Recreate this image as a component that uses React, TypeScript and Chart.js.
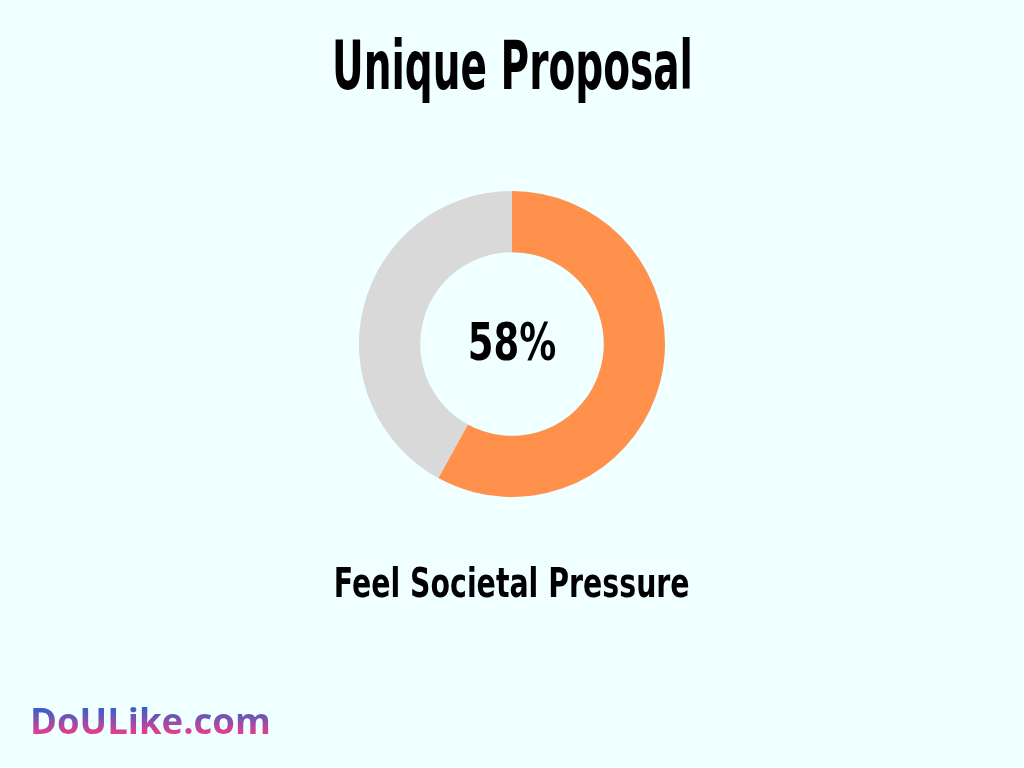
import React, { useEffect, useRef } from "react";
import { Chart, registerables } from "chart.js";

Chart.register(...registerables);

const categories = ["Feel Societal Pressure", "Other"];
const values = [58, 42];
const colors = ["#FF914D", "#D9D9D9"];
const titleText = "Unique Proposal";
const centerLabel = "58%";
const captionText = "Feel Societal Pressure";

const heavy = "'DejaVu Sans', sans-serif";

export default function App() {
  const ref = useRef<HTMLCanvasElement | null>(null);

  useEffect(() => {
    document.body.style.margin = "0";
    const ctx = ref.current!;
    const centerText = {
      id: "centerText",
      afterDraw(chart: any) {
        const { ctx: c } = chart;
        const meta = chart.getDatasetMeta(0);
        const arc = meta.data[0];
        if (!arc) return;
        c.save();
        c.translate(arc.x, arc.y + 3);
        c.scale(0.725, 1.0);
        c.font = `bold 51px ${heavy}`;
        c.fillStyle = "#000";
        c.textAlign = "center";
        c.textBaseline = "middle";
        c.fillText(centerLabel, 0, 0);
        c.restore();
      },
    };
    const chart = new Chart(ctx, {
      type: "doughnut",
      data: {
        labels: categories,
        datasets: [
          {
            data: values,
            backgroundColor: colors,
            borderWidth: 0,
            hoverOffset: 0,
          },
        ],
      },
      options: {
        animation: false,
        responsive: false,
        maintainAspectRatio: false,
        cutout: "60%",
        layout: { padding: 0 },
        plugins: {
          legend: { display: false },
          tooltip: { enabled: false },
        },
      },
      plugins: [centerText],
    });
    return () => chart.destroy();
  }, []);

  const textRow = (top: number, size: number, lh: number, sx: number, text: string) => (
    <div
      style={{
        position: "absolute",
        left: 0,
        width: 1024,
        top,
        textAlign: "center",
      }}
    >
      <span
        style={{
          display: "inline-block",
          fontFamily: heavy,
          fontWeight: "bold",
          fontSize: size,
          lineHeight: `${lh}px`,
          color: "#000",
          transform: `scaleX(${sx})`,
          transformOrigin: "center",
          whiteSpace: "nowrap",
        }}
      >
        {text}
      </span>
    </div>
  );

  return (
    <div
      style={{
        position: "fixed",
        left: 0,
        top: 0,
        width: 1024,
        height: 768,
        background: "#F0FFFF",
        overflow: "hidden",
      }}
    >
      {textRow(24, 68, 84, 0.574, titleText)}
      <canvas
        ref={ref}
        width={306}
        height={306}
        style={{ position: "absolute", left: 359, top: 191, width: 306, height: 306 }}
      />
      {textRow(558, 40, 50, 0.71, captionText)}
      <div
        style={{
          position: "absolute",
          left: 30,
          top: 696,
          fontFamily: "'Open Sans', 'Noto Sans', sans-serif",
          fontWeight: "bold",
          fontSize: 36.5,
          lineHeight: "48px",
          background: "linear-gradient(180deg, #3D5FC8 28%, #E03E8E 76%)",
          WebkitBackgroundClip: "text",
          backgroundClip: "text",
          color: "transparent",
          WebkitTextFillColor: "transparent",
        }}
      >
        DoULike.com
      </div>
    </div>
  );
}
